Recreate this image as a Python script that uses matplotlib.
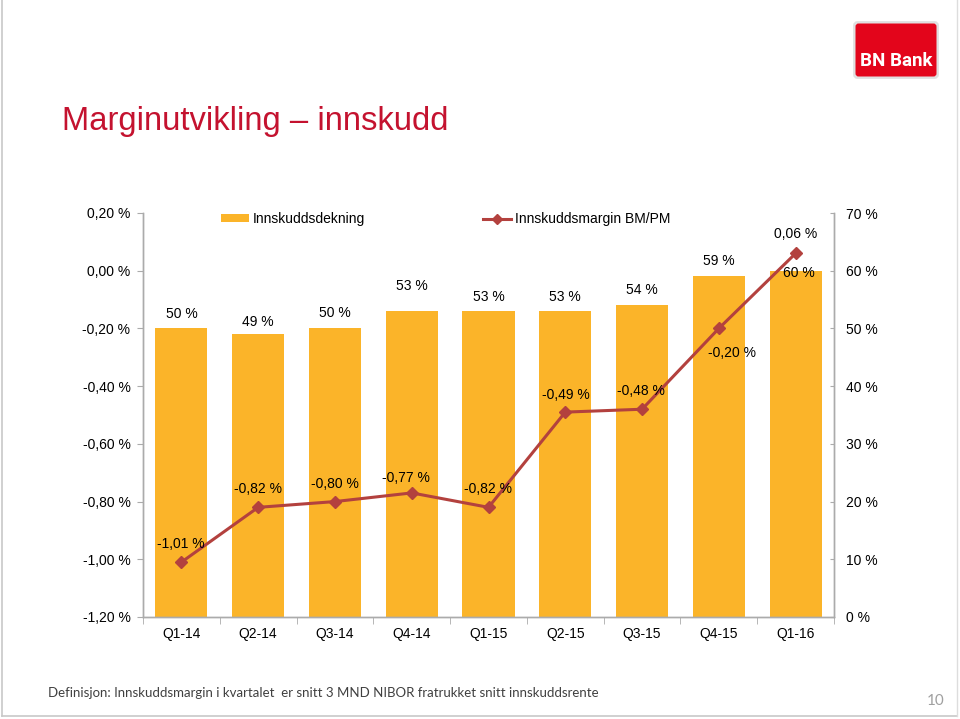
import matplotlib
matplotlib.use("Agg")
import matplotlib.pyplot as plt
from matplotlib.patches import FancyBboxPatch, Patch
from matplotlib.lines import Line2D
import numpy as np

plt.rcParams['font.family'] = ['Liberation Sans', 'DejaVu Sans']

# ---------------- data ----------------
quarters = ["Q1-14", "Q2-14", "Q3-14", "Q4-14", "Q1-15", "Q2-15", "Q3-15", "Q4-15", "Q1-16"]
deposit_coverage = [50, 49, 50, 53, 53, 53, 54, 59, 60]          # Innskuddsdekning (%)
deposit_margin = [-1.01, -0.82, -0.80, -0.77, -0.82, -0.49, -0.48, -0.20, 0.06]  # Innskuddsmargin (%)
left_ticks = [0.20, 0.00, -0.20, -0.40, -0.60, -0.80, -1.00, -1.20]
right_ticks = [70, 60, 50, 40, 30, 20, 10, 0]

# label offsets in pixels (layout only)
bar_label_off = [(0, 14), (0, 12), (0, 15), (0, 25), (0, 14), (0, 14), (0, 15), (0, 15), (3, -2)]
line_label_off = [(-1, 18), (0, 18), (0, 18), (-6, 15), (0, 18), (1, 17), (-1, 18), (13, -25), (0, 19)]

BAR_C = "#FBB429"
LINE_C = "#B3413E"
TITLE_C = "#C4122F"
SPINE_C = "#ABABAB"

W, H = 960, 719
fig = plt.figure(figsize=(9.6, 7.19), dpi=100)

def fx(px):
    return px / W

def fy(py):
    return 1 - py / H

# slide border
fig.add_artist(Line2D([fx(2), fx(2)], [fy(0), fy(716)], color="#C8C8C8", lw=1.2, transform=fig.transFigure))
fig.add_artist(Line2D([fx(2), fx(957)], [fy(716), fy(716)], color="#C8C8C8", lw=1.2, transform=fig.transFigure))
fig.add_artist(Line2D([fx(957), fx(957)], [fy(0), fy(716)], color="#DDDDDD", lw=1.0, transform=fig.transFigure))

# title
fig.text(fx(62), fy(130), "Marginutvikling \u2013 innskudd", color=TITLE_C, fontsize=23.6,
         ha="left", va="baseline")

# footer
fig.text(fx(48), fy(693), "Definisjon: Innskuddsmargin i kvartalet  er snitt 3 MND NIBOR fratrukket snitt innskuddsrente",
         color="#404040", fontsize=9.5, ha="left", va="center",
         family=["Lato", "Liberation Sans"])
fig.text(fx(936), fy(701), "10", color="#A0A0A0", fontsize=11, ha="center", va="center",
         family=["Lato", "Liberation Sans"])

# logo
axl = fig.add_axes([fx(852), fy(80), fx(88), 60 / H])
axl.set_xlim(0, 88)
axl.set_ylim(0, 60)
axl.axis("off")
axl.add_patch(FancyBboxPatch((2.5, 2.5), 83, 55, boxstyle="round,pad=0,rounding_size=3",
                             fc="none", ec="#E0E0E0", lw=2))
axl.add_patch(FancyBboxPatch((3.5, 3.5), 81, 53, boxstyle="round,pad=0,rounding_size=3",
                             fc="#E3051B", ec="none"))
axl.text(44, 19, "BN Bank", color="white", fontsize=13.5, fontweight="bold",
         ha="center", va="center", family=["Roboto", "Liberation Sans"])

# ---------------- chart ----------------
ax1 = fig.add_axes([fx(143), fy(617), fx(834) - fx(143), (617 - 213) / H])
ax2 = ax1.twinx()
ax1.set_zorder(ax2.get_zorder() + 1)
ax1.patch.set_visible(False)

x = np.arange(len(quarters))
ax2.bar(x, deposit_coverage, width=0.68, color=BAR_C, zorder=2)
ax1.plot(x, deposit_margin, color=LINE_C, lw=2.2, marker="D", markersize=6.5, zorder=3)

ax1.set_xlim(-0.5, len(quarters) - 0.5)
ax1.set_ylim(-1.20, 0.20)
ax2.set_ylim(0, 70)

ax1.set_yticks(left_ticks)
ax1.set_yticklabels([f"{v:.2f}".replace(".", ",").replace("-0,00", "0,00") + " %" for v in left_ticks])
ax2.set_yticks(right_ticks)
ax2.set_yticklabels([f"{v} %" for v in right_ticks])

ax1.set_xticks(x)
ax1.set_xticklabels(quarters)
ax1.set_xticks(np.arange(-0.5, len(quarters) + 0.5, 1), minor=True)
ax1.tick_params(axis="x", which="major", length=0, pad=7, labelsize=10)
ax1.tick_params(axis="x", which="minor", length=5, direction="out", color=SPINE_C)
ax1.tick_params(axis="y", length=4, direction="out", color=SPINE_C, labelsize=10, pad=5)
ax2.tick_params(axis="y", length=3, direction="in", color=SPINE_C, labelsize=10, pad=9)

for a in (ax1, ax2):
    a.spines["top"].set_visible(False)
    for s in ("left", "right", "bottom"):
        a.spines[s].set_color(SPINE_C)
        a.spines[s].set_linewidth(1.0)

# data labels
for i, v in enumerate(deposit_coverage):
    dx, dy = bar_label_off[i]
    ax2.annotate(f"{v} %", (i, v), xytext=(dx, dy), textcoords="offset pixels",
                 ha="center", va="center", fontsize=10, zorder=5)
for i, v in enumerate(deposit_margin):
    dx, dy = line_label_off[i]
    ax1.annotate(f"{v:.2f}".replace(".", ",") + " %", (i, v), xytext=(dx, dy),
                 textcoords="offset pixels", ha="center", va="center", fontsize=10, zorder=5)

# legend
handles = [Patch(facecolor=BAR_C, edgecolor="none"),
           Line2D([], [], color=LINE_C, lw=2.2, marker="D", markersize=5)]
leg = ax1.legend(handles, ["Innskuddsdekning", "Innskuddsmargin BM/PM"], ncol=2,
                 loc="center", bbox_to_anchor=((446 - 143) / 691, (617 - 219) / 404),
                 frameon=False, fontsize=10, columnspacing=8.5, handlelength=2.0,
                 handletextpad=0.3, handleheight=0.45)

fig.savefig("out.png", dpi=100)
